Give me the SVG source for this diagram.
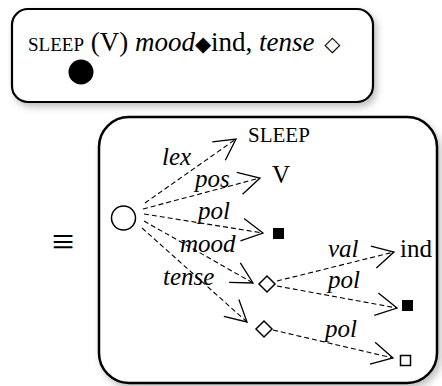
<svg xmlns="http://www.w3.org/2000/svg" width="442" height="386" viewBox="0 0 442 386">
<style>
.box{fill:#fff;stroke:#000;}
.t{font-family:"Liberation Serif","Times New Roman",serif;fill:#000;}
.it{font-style:italic;}
.edge{fill:none;stroke:#000;stroke-width:1.1;stroke-dasharray:5 3;marker-end:url(#ah);}
.sym{font-family:"DejaVu Sans",sans-serif;}
</style>
<defs>
<filter id="sh" x="-10%" y="-10%" width="130%" height="130%">
<feDropShadow dx="3" dy="4" stdDeviation="3.5" flood-color="#000" flood-opacity="0.25"/>
</filter>
<marker id="ah" markerUnits="userSpaceOnUse" markerWidth="30" markerHeight="30" viewBox="-25 -15 30 30" refX="0" refY="0" orient="auto">
<path d="M-21,-11.3 L0,0 L-21,11.3" fill="none" stroke="#000" stroke-width="1.3" stroke-dasharray="none"/>
</marker>
</defs>

<g id="top-box">
<rect class="box" x="12" y="9" width="361" height="93" rx="16" stroke-width="2.2" filter="url(#sh)"/>
<text class="t" x="28" y="51" font-size="27"><tspan font-size="19">SLEEP</tspan> (V) <tspan class="it">mood</tspan><tspan class="sym" font-size="21">◆</tspan>ind, <tspan class="it">tense</tspan> <tspan class="sym" font-size="21" dx="3">◇</tspan></text>
<circle cx="81" cy="72" r="12.5" fill="#000"/>
</g>

<g id="equiv">
<text class="t" x="63" y="255" text-anchor="middle" font-size="40">≡</text>
</g>

<g id="big-box">
<rect class="box" x="99" y="117" width="338" height="266" rx="30" stroke-width="2.5" filter="url(#sh)"/>
</g>

<g id="connectors">
<path class="edge" d="M145,203 L236,139"/>
<path class="edge" d="M143,209 L260,178"/>
<path class="edge" d="M144,214 L263,233"/>
<path class="edge" d="M144,221 L253,283"/>
<path class="edge" d="M142,228 L247,322"/>
<path class="edge" d="M277,281 L394,252"/>
<path class="edge" d="M277,286 L397,308"/>
<path class="edge" d="M273,330 L393,358"/>
</g>

<g id="labels" font-size="25">
<text class="t it" x="162" y="165">lex</text>
<text class="t it" x="195" y="187">pos</text>
<text class="t it" x="198" y="219">pol</text>
<text class="t it" x="180" y="252">mood</text>
<text class="t it" x="163" y="285">tense</text>
<text class="t it" x="328" y="257">val</text>
<text class="t it" x="328" y="288">pol</text>
<text class="t it" x="325" y="337">pol</text>
</g>

<g id="root">
<circle cx="123.5" cy="218" r="12" fill="#fff" stroke="#000" stroke-width="1.5"/>
</g>
<g id="lex-val"><text class="t" x="248" y="142" font-size="21">SLEEP</text></g>
<g id="pos-val"><text class="t" x="272" y="183" font-size="25">V</text></g>
<g id="pol-val"><rect x="273" y="228" width="11" height="11" fill="#000"/></g>
<g id="mood-node"><polygon points="267,276 275,284 267,292 259,284" fill="#fff" stroke="#000" stroke-width="1.5"/></g>
<g id="tense-node"><polygon points="264,321 272,329 264,337 256,329" fill="#fff" stroke="#000" stroke-width="1.5"/></g>
<g id="ind"><text class="t" x="400" y="257" font-size="25">ind</text></g>
<g id="mood-pol"><rect x="402" y="300" width="11" height="11" fill="#000"/></g>
<g id="tense-pol"><rect x="400.5" y="355.5" width="10" height="10" fill="#fff" stroke="#000" stroke-width="1.5"/></g>
</svg>
